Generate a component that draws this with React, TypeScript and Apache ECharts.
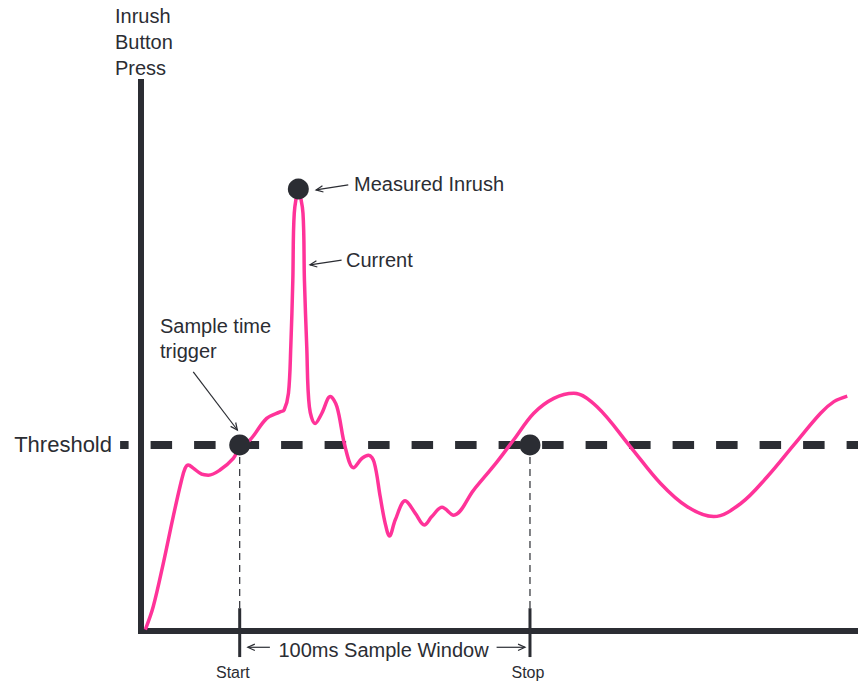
import React, { useEffect, useRef } from "react";
import * as echarts from "echarts";

// ---- data (time in ms, current in arbitrary units) ----
const TIME_MS = [
  1.5, 4.2, 7.7, 11.1, 14.0, 15.2, 16.3, 18.0, 20.9, 23.2, 27.2, 31.8, 34.1, 37.6, 43.3, 47.9, 49.3,
  50.8, 51.6, 52.3, 52.8, 54.2, 55.8, 56.3, 57.1, 58.0, 60.0, 62.3, 65.2, 67.5, 70.3, 73.2, 76.1,
  78.4, 80.3, 82.4, 84.1, 85.6, 87.6, 91.0, 94.5, 97.6, 100.2, 103.7, 107.7, 114.6, 122.7, 128.4,
  135.3, 142.2, 149.1, 157.1, 168.6, 179.0, 188.2, 197.3, 206.6, 215.8, 224.9, 234.1, 238.7, 243.3,
];
const CURRENT = [
  0.3, 5.2, 14.6, 24.6, 32.5, 35.0, 35.7, 35.0, 33.7, 33.5, 34.6, 37.1, 39.6, 41.1, 45.7, 47.1, 47.5,
  51.1, 61.1, 75.4, 89.8, 94.4, 89.8, 75.4, 61.1, 48.2, 44.6, 46.8, 50.4, 48.2, 39.6, 35.1, 37.1,
  37.8, 36.3, 28.9, 23.2, 20.4, 23.9, 28.0, 25.3, 22.8, 24.6, 26.6, 24.9, 30.3, 36.4, 41.1,
  46.8, 50.0, 51.1, 48.2, 39.6, 31.7, 26.7, 24.6, 27.4, 33.2, 40.0, 46.8, 49.3, 50.5,
];
const THRESHOLD = 40;
const THRESHOLD_SPAN = [-7.2, 247];
const MARKER_TIMES = [34, 54.2, 134];
const MARKER_VALUES = [40, 95, 40];
const WINDOW_START = 34;
const WINDOW_STOP = 134;
const X_MAX = 247;
const Y_MAX = 118;

const INK = "#2b2d33";
const PINK = "#ff3399";
const FONT = '"Liberation Sans", Arial, Helvetica, sans-serif';

export default function App() {
  const ref = useRef<HTMLDivElement>(null);

  useEffect(() => {
    if (!ref.current) return;
    const chart = echarts.init(ref.current, null, { renderer: "svg" });

    const curve = TIME_MS.map((t, i) => [t, CURRENT[i]]);
    const markers = MARKER_TIMES.map((t, i) => [t, MARKER_VALUES[i]]);

    // guides: [x1, y1, x2, y2, kind] kind 0 = dashed drop, 1 = solid tick, 2 = threshold
    const guides = [
      [WINDOW_START, THRESHOLD, WINDOW_START, 4.9, 0],
      [WINDOW_STOP, THRESHOLD, WINDOW_STOP, 4.9, 0],
      [WINDOW_START, 4.9, WINDOW_START, -5.6, 1],
      [WINDOW_STOP, 4.9, WINDOW_STOP, -5.6, 1],
    ];
    const thresholdLine = [[THRESHOLD_SPAN[0], THRESHOLD, THRESHOLD_SPAN[1], THRESHOLD, 2]];
    // arrows: [tailX, tailY, tipX, tipY]
    const arrows = [
      [71.4, 95.9, 60.3, 94.8],
      [69.1, 79.7, 58.2, 78.7],
      [18.0, 55.7, 33.2, 43.2],
      [44.4, -3.5, 36.8, -3.5],
      [122.5, -3.5, 132.3, -3.5],
    ];

    const txt = (text: string, x: number, y: number, size: number, align = "left") => ({
      type: "text",
      x,
      y,
      silent: true,
      style: {
        text,
        fill: INK,
        fontSize: size,
        fontFamily: FONT,
        align,
        verticalAlign: "middle",
      },
    });

    const segment = (params: any, api: any) => {
      const p1 = api.coord([api.value(0), api.value(1)]);
      const p2 = api.coord([api.value(2), api.value(3)]);
      const kind = api.value(4);
      let style: any;
      if (kind === 0) style = { stroke: INK, lineWidth: 1.2, lineDash: [7, 5] };
      else if (kind === 1) style = { stroke: INK, lineWidth: 3 };
      else style = { stroke: INK, lineWidth: 8, lineDash: [21.5, 22], lineDashOffset: 12.5 };
      return {
        type: "line",
        shape: { x1: p1[0], y1: p1[1], x2: p2[0], y2: p2[1] },
        style,
      };
    };

    chart.setOption({
      animation: false,
      grid: { left: 141, right: 0, top: 82, bottom: 53 },
      xAxis: {
        type: "value",
        min: 0,
        max: X_MAX,
        axisLine: { show: true, onZero: false, lineStyle: { color: INK, width: 6, cap: "square" } },
        axisTick: { show: false },
        axisLabel: { show: false },
        splitLine: { show: false },
      },
      yAxis: {
        type: "value",
        min: 0,
        max: Y_MAX,
        axisLine: { show: true, onZero: false, lineStyle: { color: INK, width: 6, cap: "square" } },
        axisTick: { show: false },
        axisLabel: { show: false },
        splitLine: { show: false },
      },
      graphic: [
        txt("Inrush", 115, 16.3, 20),
        txt("Button", 115, 42.3, 20),
        txt("Press", 115, 68, 20),
        txt("Measured Inrush", 354, 184, 20),
        txt("Current", 346, 259.7, 20),
        txt("Sample time", 160, 326.3, 20),
        txt("trigger", 160, 351.3, 20),
        txt("Threshold", 112, 444.8, 22, "right"),
        txt("100ms Sample Window", 278.5, 649.7, 20),
        txt("Start", 216, 672.7, 16),
        txt("Stop", 511.5, 672.7, 16),
      ],
      series: [
        {
          type: "custom",
          name: "guides",
          z: 1,
          clip: false,
          silent: true,
          data: guides,
          renderItem: segment,
        },
        {
          type: "custom",
          name: "threshold",
          z: 2,
          clip: false,
          silent: true,
          data: thresholdLine,
          renderItem: segment,
        },
        {
          type: "line",
          name: "current",
          z: 3,
          silent: true,
          showSymbol: false,
          smooth: 0.35,
          data: curve,
          lineStyle: { color: PINK, width: 3.5 },
        },
        {
          type: "custom",
          name: "arrows",
          z: 4,
          clip: false,
          silent: true,
          data: arrows,
          renderItem: (params: any, api: any) => {
            const a = api.coord([api.value(0), api.value(1)]);
            const b = api.coord([api.value(2), api.value(3)]);
            const dx = b[0] - a[0];
            const dy = b[1] - a[1];
            const len = Math.sqrt(dx * dx + dy * dy) || 1;
            const ux = dx / len;
            const uy = dy / len;
            const L = 7;
            const W = 3.2;
            const h1 = [b[0] - ux * L - uy * W, b[1] - uy * L + ux * W];
            const h2 = [b[0] - ux * L + uy * W, b[1] - uy * L - ux * W];
            return {
              type: "group",
              children: [
                {
                  type: "line",
                  shape: { x1: a[0], y1: a[1], x2: b[0], y2: b[1] },
                  style: { stroke: INK, lineWidth: 1.2 },
                },
                {
                  type: "polyline",
                  shape: { points: [h1, b, h2] },
                  style: { stroke: INK, lineWidth: 1.2, fill: "none" },
                },
              ],
            };
          },
        },
        {
          type: "scatter",
          name: "markers",
          z: 5,
          silent: true,
          symbolSize: 21,
          data: markers,
          itemStyle: { color: INK, opacity: 1 },
        },
      ],
    });

    return () => chart.dispose();
  }, []);

  return (
    <div
      ref={ref}
      style={{ position: "absolute", left: 0, top: 0, width: 858, height: 684, background: "#fff" }}
    />
  );
}
